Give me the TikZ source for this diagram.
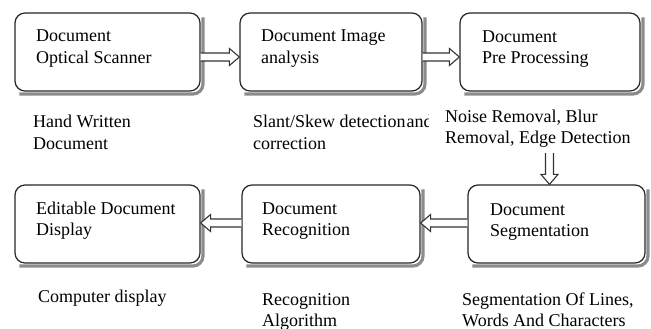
\documentclass[tikz,border=0pt]{standalone}
\usepackage{fontspec}
\setmainfont{Liberation Serif}
\usetikzlibrary{calc}
\begin{document}
\begin{tikzpicture}[x=1pt,y=-1pt,
  box/.style={draw=black!85, line width=1.2pt, rounded corners=10pt, fill=white,
    minimum width=#1, minimum height=78pt, inner sep=0pt},
  shadowline/.style={draw=black!45, line width=3.2pt, rounded corners=10pt},
  txt/.style={anchor=base west, inner sep=0pt, font=\fontsize{18}{21}\selectfont},
  hollow/.style={draw=black!80, line width=1.1pt, fill=white,
    to path={let \p1=(\tikztostart), \p2=(\tikztotarget), \p3=($(\p2)!10pt!(\p1)$) in
      ($(\p1)!4pt!90:(\p2)$) -- ($(\p3)!4pt!90:(\p2)$) -- ($(\p3)!8.5pt!90:(\p2)$) -- (\p2)
      -- ($(\p3)!8.5pt!-90:(\p2)$) -- ($(\p3)!4pt!-90:(\p2)$) -- ($(\p1)!4pt!-90:(\p2)$)}}
]
\useasboundingbox (0,0) rectangle (651,329);

% boxes
\node[box=185pt] (b1) at (107.5,52) {};
\node[box=182pt] (b2) at (331,52) {};
\node[box=180pt] (b3) at (550,52) {};
\node[box=185pt] (b4) at (107.5,224) {};
\node[box=178pt] (b5) at (331,224) {};
\node[box=177pt] (b6) at (556.5,224) {};

% shadows along right and bottom edges
\foreach \bx in {b1,b2,b3,b4,b5,b6}
  \draw[shadowline] ([shift={(2.4,5)}]\bx.north east) -- ([shift={(2.4,2.4)}]\bx.south east) -- ([shift={(5,2.4)}]\bx.south west);

% box texts
\node[txt] (t1) at (36,42) {\begin{tabular}[t]{@{}l@{}}Document\\Optical Scanner\end{tabular}};
\node[txt] (t2) at (261,42) {\begin{tabular}[t]{@{}l@{}}Document Image\\analysis\end{tabular}};
\node[txt] (t3) at (482,43) {\begin{tabular}[t]{@{}l@{}}Document\\Pre Processing\end{tabular}};
\node[txt] (t4) at (36,214) {\begin{tabular}[t]{@{}l@{}}Editable Document\\Display\end{tabular}};
\node[txt] (t5) at (262,214) {\begin{tabular}[t]{@{}l@{}}Document\\Recognition\end{tabular}};
\node[txt] (t6) at (490,215) {\begin{tabular}[t]{@{}l@{}}Document\\Segmentation\end{tabular}};

% captions
\node[txt] (c1) at (33,128) {\begin{tabular}[t]{@{}l@{}}Hand Written\\Document\end{tabular}};
\begin{scope}
  \clip (240,100) rectangle (428,160);
  \node[txt] (c2) at (253,128) {\begin{tabular}[t]{@{}l@{}}Slant/Skew detection\hspace{1pt}and\\correction\end{tabular}};
\end{scope}
\node[txt] (c3) at (445,122) {\begin{tabular}[t]{@{}l@{}}Noise Removal, Blur\\Removal, Edge Detection\end{tabular}};
\node[txt] (c4) at (38,302) {Computer display};
\node[txt] (c5) at (262,305) {\begin{tabular}[t]{@{}l@{}}Recognition\\Algorithm\end{tabular}};
\node[txt] (c6) at (462,305) {\begin{tabular}[t]{@{}l@{}}Segmentation Of Lines,\\Words And Characters\end{tabular}};

% arrows
\coordinate (v) at (549.5,153);
\draw[hollow] ([yshift=-5pt]b1.east) to ([yshift=-5pt]b2.west);
\draw[hollow] ([yshift=-5pt]b2.east) to ([yshift=-5pt]b3.west);
\draw[hollow] (v) to (v |- b6.north);
\draw[hollow] ([yshift=1pt]b6.west) to ([yshift=1pt]b5.east);
\draw[hollow] ([yshift=1pt]b5.west) to ([yshift=1pt]b4.east);
\end{tikzpicture}
\end{document}
